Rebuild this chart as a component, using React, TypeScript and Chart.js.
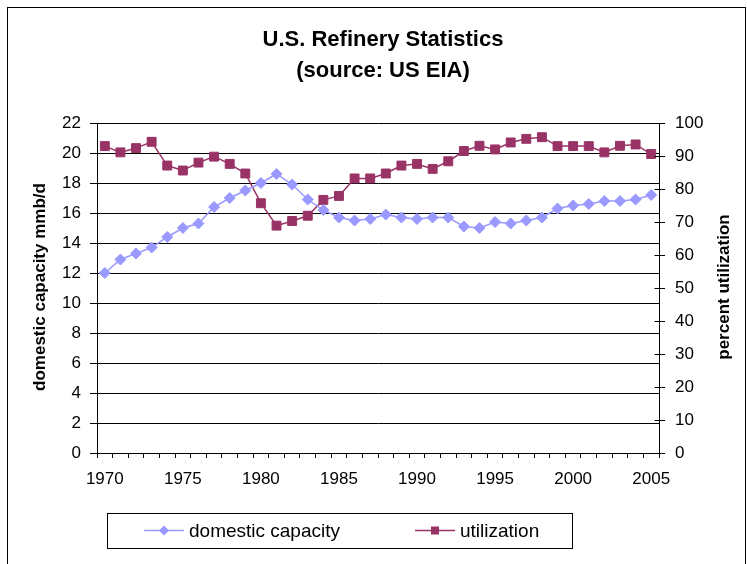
import React, { useEffect, useRef } from 'react';
import { Chart, registerables } from 'chart.js';

Chart.register(...registerables);

const years: string[] = [
  '1970', '1971', '1972', '1973', '1974', '1975', '1976', '1977', '1978', '1979',
  '1980', '1981', '1982', '1983', '1984', '1985', '1986', '1987', '1988', '1989',
  '1990', '1991', '1992', '1993', '1994', '1995', '1996', '1997', '1998', '1999',
  '2000', '2001', '2002', '2003', '2004', '2005',
];

const domesticCapacity: number[] = [
  12.0, 12.9, 13.3, 13.7, 14.4, 15.0, 15.3, 16.4, 17.0, 17.5,
  18.0, 18.6, 17.9, 16.9, 16.2, 15.7, 15.5, 15.6, 15.9, 15.7,
  15.6, 15.7, 15.7, 15.1, 15.0, 15.4, 15.3, 15.5, 15.7, 16.3,
  16.5, 16.6, 16.8, 16.8, 16.9, 17.2,
];

const utilization: number[] = [
  93.0, 91.1, 92.4, 94.3, 87.1, 85.6, 88.0, 89.8, 87.6, 84.7,
  75.7, 68.9, 70.3, 71.9, 76.7, 77.9, 83.2, 83.2, 84.7, 87.1,
  87.6, 86.1, 88.4, 91.5, 93.1, 92.0, 94.1, 95.2, 95.7, 93.0,
  93.0, 93.0, 91.1, 93.1, 93.5, 90.6,
];

const titleLines: string[] = ['U.S. Refinery Statistics', '(source: US EIA)'];
const leftAxisTitle = 'domestic capacity mmb/d';
const rightAxisTitle = 'percent utilization';
const seriesNames: string[] = ['domestic capacity', 'utilization'];

const CAP_COLOR = '#9999FF';
const UTIL_COLOR = '#993366';
const FONT = '"Liberation Sans", Arial, sans-serif';

const W = 747;
const H = 564;

const decorPlugin = {
  id: 'decor',
  beforeDraw(chart: any) {
    const ctx = chart.ctx;
    ctx.save();
    ctx.fillStyle = '#ffffff';
    ctx.fillRect(0, 0, W, H);
    ctx.strokeStyle = '#000000';
    ctx.lineWidth = 1;
    ctx.strokeRect(7.5, 7.5, 738, 600);
    ctx.restore();
  },
  afterDraw(chart: any) {
    const ctx = chart.ctx;
    ctx.save();
    // title
    ctx.fillStyle = '#000';
    ctx.textAlign = 'center';
    ctx.textBaseline = 'middle';
    ctx.font = `bold 22px ${FONT}`;
    ctx.fillText(titleLines[0], 383, 40);
    ctx.fillText(titleLines[1], 383, 71);

    // axis titles
    ctx.font = `bold 17px ${FONT}`;
    ctx.save();
    ctx.translate(40, 287);
    ctx.rotate(-Math.PI / 2);
    ctx.fillText(leftAxisTitle, 0, 0);
    ctx.restore();
    ctx.save();
    ctx.translate(724, 287);
    ctx.rotate(-Math.PI / 2);
    ctx.fillText(rightAxisTitle, 0, 0);
    ctx.restore();

    // inner tick marks on right axis
    const y1 = chart.scales.y1;
    const ax = Math.round(chart.chartArea.right) + 0.5;
    ctx.strokeStyle = '#000';
    ctx.lineWidth = 1;
    y1.ticks.forEach((t: any) => {
      const py = Math.round(y1.getPixelForValue(t.value)) + 0.5;
      ctx.beginPath();
      ctx.moveTo(ax - 5, py);
      ctx.lineTo(ax, py);
      ctx.stroke();
    });

    // legend
    ctx.strokeStyle = '#000';
    ctx.strokeRect(107.5, 513.5, 465, 35);
    const ly = 530.5;
    ctx.textAlign = 'left';
    ctx.font = `19px ${FONT}`;
    // capacity
    ctx.strokeStyle = CAP_COLOR;
    ctx.lineWidth = 1.5;
    ctx.beginPath();
    ctx.moveTo(144, ly);
    ctx.lineTo(184, ly);
    ctx.stroke();
    ctx.fillStyle = CAP_COLOR;
    ctx.beginPath();
    ctx.moveTo(164 - 5, ly);
    ctx.lineTo(164, ly - 5);
    ctx.lineTo(164 + 5, ly);
    ctx.lineTo(164, ly + 5);
    ctx.closePath();
    ctx.fill();
    ctx.fillStyle = '#000';
    ctx.fillText(seriesNames[0], 189, ly + 1);
    // utilization
    ctx.strokeStyle = UTIL_COLOR;
    ctx.beginPath();
    ctx.moveTo(415, ly);
    ctx.lineTo(455, ly);
    ctx.stroke();
    ctx.fillStyle = UTIL_COLOR;
    ctx.fillRect(435 - 4, ly - 4, 8, 8);
    ctx.fillStyle = '#000';
    ctx.fillText(seriesNames[1], 460, ly + 1);
    ctx.restore();
  },
};

export default function App() {
  const ref = useRef<HTMLCanvasElement | null>(null);

  useEffect(() => {
    if (!ref.current) return;
    const chart = new Chart(ref.current, {
      type: 'line',
      data: {
        labels: years,
        datasets: [
          {
            label: seriesNames[0],
            data: domesticCapacity,
            yAxisID: 'y',
            borderColor: CAP_COLOR,
            backgroundColor: CAP_COLOR,
            borderWidth: 1.5,
            pointStyle: 'rectRot',
            pointRadius: 5.5,
            pointBorderWidth: 1,
            tension: 0,
          },
          {
            label: seriesNames[1],
            data: utilization,
            yAxisID: 'y1',
            borderColor: UTIL_COLOR,
            backgroundColor: UTIL_COLOR,
            borderWidth: 1.5,
            pointStyle: 'rect',
            pointRadius: 6.3,
            pointBorderWidth: 1,
            tension: 0,
          },
        ],
      },
      options: {
        responsive: false,
        animation: false,
        devicePixelRatio: 1,
        layout: { padding: { top: 123, left: 0, right: 0, bottom: 0 } },
        plugins: {
          legend: { display: false },
          title: { display: false },
          tooltip: { enabled: false },
        },
        scales: {
          x: {
            type: 'category',
            offset: true,
            grid: {
              offset: true,
              drawOnChartArea: false,
              drawTicks: true,
              tickLength: 5,
              color: '#000',
            },
            border: { color: '#000', width: 1 },
            ticks: {
              autoSkip: false,
              maxRotation: 0,
              padding: 11,
              color: '#000',
              font: { family: FONT, size: 17 },
              callback: (_v: any, i: number) => (i % 5 === 0 ? years[i] : ''),
            },
            afterFit: (s: any) => {
              s.height = 111;
            },
          },
          y: {
            position: 'left',
            min: 0,
            max: 22,
            grid: { color: '#000', tickLength: 7, drawTicks: true },
            border: { color: '#000', width: 1 },
            ticks: {
              stepSize: 2,
              padding: 9,
              color: '#000',
              font: { family: FONT, size: 17 },
            },
            afterFit: (s: any) => {
              s.width = 97;
            },
          },
          y1: {
            position: 'right',
            min: 0,
            max: 100,
            grid: { drawOnChartArea: false, color: '#000', tickLength: 6 },
            border: { color: '#000', width: 1 },
            ticks: {
              stepSize: 10,
              padding: 10,
              color: '#000',
              font: { family: FONT, size: 17 },
            },
            afterFit: (s: any) => {
              s.width = 88;
            },
          },
        },
      },
      plugins: [decorPlugin],
    });
    return () => chart.destroy();
  }, []);

  return (
    <div style={{ position: 'absolute', left: 0, top: 0, width: W, height: H, background: '#fff' }}>
      <canvas ref={ref} width={W} height={H} style={{ display: 'block', width: W, height: H }} />
    </div>
  );
}
